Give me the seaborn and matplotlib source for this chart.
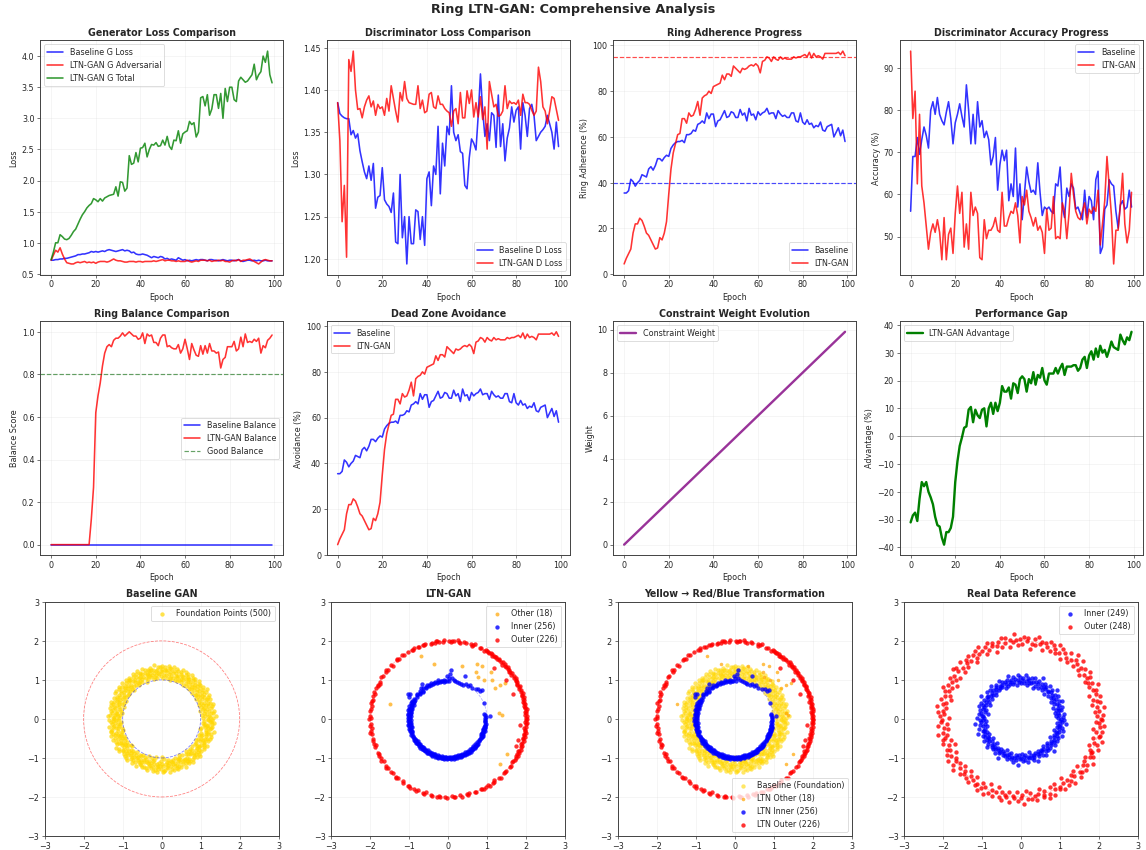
import numpy as np
import pandas as pd
import matplotlib
matplotlib.use("Agg")
import matplotlib.pyplot as plt
import seaborn as sns

# ---- training curves (one value per epoch) ----
epochs = np.arange(100)

g_loss_baseline = [
    0.72, 0.72, 0.73, 0.73, 0.74, 0.74, 0.75, 0.75, 0.76, 0.77,
    0.78, 0.79, 0.81, 0.81, 0.82, 0.82, 0.83, 0.84, 0.86, 0.85,
    0.86, 0.85, 0.86, 0.87, 0.86, 0.88, 0.89, 0.88, 0.87, 0.86,
    0.87, 0.88, 0.89, 0.87, 0.88, 0.87, 0.84, 0.85, 0.82, 0.81,
    0.81, 0.82, 0.81, 0.80, 0.78, 0.76, 0.78, 0.77, 0.76, 0.78,
    0.77, 0.74, 0.75, 0.73, 0.74, 0.73, 0.72, 0.76, 0.74, 0.72,
    0.73, 0.71, 0.72, 0.71, 0.72, 0.73, 0.72, 0.73, 0.73, 0.72,
    0.71, 0.73, 0.73, 0.72, 0.72, 0.71, 0.72, 0.73, 0.72, 0.71,
    0.72, 0.72, 0.71, 0.72, 0.73, 0.71, 0.70, 0.71, 0.72, 0.72,
    0.71, 0.72, 0.71, 0.72, 0.71, 0.71, 0.72, 0.71, 0.71, 0.71]
g_loss_ltn_adv = [
    0.72, 0.80, 0.88, 0.85, 0.92, 0.82, 0.74, 0.68, 0.67, 0.66,
    0.66, 0.68, 0.69, 0.68, 0.69, 0.70, 0.68, 0.69, 0.68, 0.69,
    0.67, 0.69, 0.70, 0.70, 0.70, 0.69, 0.70, 0.72, 0.74, 0.72,
    0.71, 0.71, 0.70, 0.69, 0.69, 0.70, 0.70, 0.70, 0.69, 0.70,
    0.70, 0.69, 0.70, 0.70, 0.70, 0.70, 0.71, 0.70, 0.71, 0.72,
    0.73, 0.71, 0.72, 0.72, 0.71, 0.71, 0.70, 0.71, 0.70, 0.70,
    0.70, 0.72, 0.70, 0.69, 0.70, 0.71, 0.70, 0.72, 0.72, 0.72,
    0.71, 0.72, 0.70, 0.71, 0.71, 0.72, 0.71, 0.72, 0.70, 0.70,
    0.69, 0.71, 0.72, 0.71, 0.73, 0.70, 0.72, 0.72, 0.73, 0.74,
    0.72, 0.70, 0.68, 0.66, 0.69, 0.72, 0.73, 0.72, 0.71, 0.71]
g_loss_ltn_total = [
    0.73, 0.85, 1.00, 1.00, 1.13, 1.10, 1.06, 1.05, 1.07, 1.12,
    1.18, 1.22, 1.30, 1.38, 1.45, 1.50, 1.56, 1.60, 1.63, 1.71,
    1.69, 1.66, 1.71, 1.67, 1.72, 1.74, 1.76, 1.77, 1.78, 1.90,
    1.75, 1.98, 1.97, 1.83, 1.88, 2.40, 2.26, 2.28, 2.45, 2.30,
    2.52, 2.53, 2.60, 2.38, 2.50, 2.58, 2.57, 2.61, 2.55, 2.56,
    2.65, 2.57, 2.71, 2.55, 2.50, 2.65, 2.64, 2.80, 2.60, 2.75,
    2.78, 2.80, 2.95, 2.90, 2.93, 2.70, 2.78, 3.33, 3.35, 3.20,
    3.38, 3.05, 3.15, 3.38, 3.38, 3.16, 3.40, 3.00, 3.48, 3.27,
    3.50, 3.50, 3.30, 3.27, 3.60, 3.66, 3.62, 3.58, 3.60, 3.65,
    3.70, 3.87, 3.62, 3.70, 3.75, 4.00, 3.90, 4.08, 3.70, 3.57]

d_loss_baseline = [
    1.385, 1.372, 1.369, 1.367, 1.366, 1.366, 1.347, 1.352, 1.343, 1.348,
    1.328, 1.315, 1.303, 1.295, 1.310, 1.293, 1.313, 1.260, 1.273, 1.275,
    1.308, 1.270, 1.265, 1.262, 1.255, 1.278, 1.220, 1.218, 1.300, 1.225,
    1.250, 1.194, 1.250, 1.218, 1.218, 1.258, 1.256, 1.223, 1.250, 1.216,
    1.295, 1.303, 1.263, 1.310, 1.300, 1.357, 1.277, 1.337, 1.310, 1.357,
    1.347, 1.405, 1.350, 1.340, 1.347, 1.327, 1.325, 1.287, 1.283, 1.320,
    1.342, 1.337, 1.329, 1.370, 1.419, 1.375, 1.345, 1.360, 1.340, 1.373,
    1.370, 1.332, 1.394, 1.333, 1.360, 1.316, 1.343, 1.355, 1.380, 1.362,
    1.376, 1.380, 1.330, 1.385, 1.370, 1.345, 1.378, 1.383, 1.370, 1.340,
    1.345, 1.350, 1.353, 1.357, 1.370, 1.360, 1.350, 1.330, 1.362, 1.333]
d_loss_ltn = [
    1.385, 1.340, 1.244, 1.287, 1.202, 1.436, 1.422, 1.446, 1.400, 1.377,
    1.378, 1.367, 1.380, 1.388, 1.393, 1.380, 1.387, 1.370, 1.383, 1.378,
    1.380, 1.370, 1.390, 1.375, 1.405, 1.390, 1.375, 1.362, 1.397, 1.387,
    1.410, 1.390, 1.385, 1.384, 1.383, 1.383, 1.405, 1.378, 1.388, 1.373,
    1.375, 1.395, 1.397, 1.380, 1.378, 1.393, 1.383, 1.383, 1.378, 1.375,
    1.373, 1.357, 1.375, 1.378, 1.360, 1.397, 1.367, 1.367, 1.399, 1.384,
    1.400, 1.368, 1.385, 1.368, 1.392, 1.365, 1.380, 1.330, 1.410, 1.395,
    1.380, 1.383, 1.369, 1.370, 1.375, 1.405, 1.378, 1.387, 1.384, 1.385,
    1.383, 1.388, 1.370, 1.395, 1.385, 1.385, 1.383, 1.376, 1.370, 1.375,
    1.427, 1.410, 1.380, 1.375, 1.360, 1.375, 1.392, 1.390, 1.377, 1.364]

adherence_baseline = [
    35.5, 35.5, 36.5, 41.5, 40.5, 38.5, 40.0, 41.0, 43.5, 43.0,
    42.5, 46.0, 47.0, 45.5, 47.5, 50.5, 50.5, 49.5, 51.0, 52.0,
    51.5, 55.0, 56.5, 57.5, 58.0, 58.0, 58.5, 57.5, 61.0, 61.0,
    61.5, 63.0, 62.5, 65.5, 66.0, 67.0, 66.0, 70.5, 68.0, 70.0,
    70.0, 64.5, 67.0, 67.5, 69.5, 71.5, 68.5, 69.0, 71.0, 70.5,
    68.5, 68.5, 72.0, 69.5, 70.5, 67.0, 72.5, 69.5, 70.0, 67.5,
    71.0, 69.5, 70.5, 71.0, 72.5, 70.0, 70.5, 70.5, 68.0, 71.5,
    70.0, 69.0, 69.5, 68.5, 68.5, 70.5, 70.5, 67.0, 66.5, 70.5,
    66.5, 65.5, 67.5, 65.5, 66.0, 64.0, 65.0, 64.5, 66.5, 63.0,
    62.5, 64.5, 65.0, 65.5, 60.0, 62.0, 64.0, 60.5, 63.0, 58.0]
adherence_ltn = [
    4.5, 7.0, 9.0, 11.0, 18.0, 22.0, 22.0, 24.5, 23.5, 21.0,
    18.0, 17.0, 15.0, 13.0, 11.0, 11.5, 16.0, 15.0, 18.0, 23.0,
    35.0, 46.0, 53.0, 57.0, 61.0, 61.5, 68.0, 68.0, 66.0, 70.5,
    69.0, 69.5, 72.0, 75.5, 69.5, 77.0, 78.0, 78.5, 80.0, 79.0,
    82.0, 82.5, 83.0, 83.5, 87.0, 85.0, 87.5, 87.5, 86.5, 91.0,
    90.0, 89.0, 88.0, 90.0, 89.5, 90.0, 91.0, 91.5, 91.0, 92.0,
    91.0, 88.0, 93.0, 93.5, 95.0, 94.5, 93.0, 95.0, 94.0, 93.5,
    95.0, 94.0, 94.5, 94.0, 94.0, 94.0, 95.0, 94.5, 95.0, 95.0,
    95.5, 96.0, 95.0, 97.0, 94.5, 96.5, 95.0, 95.5, 95.0, 94.0,
    96.5, 96.5, 96.5, 96.5, 96.5, 96.5, 97.0, 96.0, 97.5, 95.5]

acc_baseline = [
    56, 69, 69, 73.5, 69.5, 73, 76, 74, 71, 80,
    82, 79, 83, 79, 77.5, 76.5, 79.5, 82, 78, 72,
    77, 79, 81.5, 78.5, 76, 86, 80, 72, 79, 72,
    82, 76, 77.5, 73.5, 75, 73, 67, 69, 73.5, 61,
    67, 70.5, 68, 70.5, 58.5, 62.5, 59.5, 71, 57, 62.5,
    54, 60, 66.5, 63, 60.5, 61, 60, 67.5, 60.5, 55,
    57, 56.5, 57, 56, 55.5, 62.5, 62, 66.5, 57, 54.5,
    61.5, 59.5, 62.5, 61.5, 56.5, 57, 55.5, 54, 61, 54.5,
    59.5, 58.5, 54, 63.5, 65.5, 46, 47.5, 56.5, 57.5, 63.5,
    62.5, 62, 56, 52, 57.5, 58.5, 56.5, 57, 61, 57]
acc_ltn = [
    94, 78, 84.5, 62.5, 79, 62, 58, 52.5, 47, 51,
    53, 51, 54, 51, 44.5, 54.5, 44.5, 50.5, 52, 46,
    55.5, 62, 55.5, 60.5, 47.5, 53, 47, 60.5, 55, 57,
    55.5, 45, 44.5, 54, 49.5, 51.5, 51.5, 52.5, 54.5, 51.5,
    51, 60.5, 52.5, 52.5, 54.5, 56, 55.5, 58, 55, 48.5,
    59.5, 57.5, 61, 56, 54.5, 52.5, 54.5, 51.5, 52.5, 51,
    46, 56.5, 51.5, 52, 59.5, 49.5, 50, 49.5, 58, 56,
    49.5, 55.5, 65, 60, 56, 54.5, 54, 56, 58, 53,
    56.5, 55.5, 57, 56, 61, 48, 53, 58.5, 69, 62,
    55, 43.5, 51.5, 51.5, 57.5, 65, 53, 48.5, 51.5, 60.5]

balance_baseline = [
    0, 0, 0, 0, 0, 0, 0, 0, 0, 0,
    0, 0, 0, 0, 0, 0, 0, 0, 0, 0,
    0, 0, 0, 0, 0, 0, 0, 0, 0, 0,
    0, 0, 0, 0, 0, 0, 0, 0, 0, 0,
    0, 0, 0, 0, 0, 0, 0, 0, 0, 0,
    0, 0, 0, 0, 0, 0, 0, 0, 0, 0,
    0, 0, 0, 0, 0, 0, 0, 0, 0, 0,
    0, 0, 0, 0, 0, 0, 0, 0, 0, 0,
    0, 0, 0, 0, 0, 0, 0, 0, 0, 0,
    0, 0, 0, 0, 0, 0, 0, 0, 0, 0]
balance_ltn = [
    0, 0, 0, 0, 0, 0, 0, 0, 0, 0,
    0, 0, 0, 0, 0, 0, 0, 0, 0.12, 0.27,
    0.62, 0.70, 0.76, 0.84, 0.90, 0.93, 0.94, 0.93, 0.96, 0.97,
    0.97, 0.98, 0.995, 0.98, 0.99, 1.0, 0.99, 0.98, 0.98, 0.965,
    0.97, 0.995, 0.945, 0.99, 0.98, 0.985, 0.95, 0.95, 0.935, 0.97,
    0.985, 0.985, 0.93, 0.935, 0.925, 0.92, 0.92, 0.94, 0.90, 0.92,
    0.965, 0.92, 0.87, 0.945, 0.915, 0.89, 0.885, 0.935, 0.895, 0.935,
    0.90, 0.945, 0.91, 0.91, 0.90, 0.905, 0.83, 0.87, 0.88, 0.93,
    0.93, 0.93, 0.955, 0.91, 0.92, 0.975, 0.93, 0.99, 0.95, 0.955,
    0.95, 0.965, 0.955, 0.97, 0.90, 0.935, 0.925, 0.96, 0.97, 0.985]

constraint_weight = [
    0.0, 0.1, 0.2, 0.3, 0.4, 0.5, 0.6, 0.7, 0.8, 0.9,
    1.0, 1.1, 1.2, 1.3, 1.4, 1.5, 1.6, 1.7, 1.8, 1.9,
    2.0, 2.1, 2.2, 2.3, 2.4, 2.5, 2.6, 2.7, 2.8, 2.9,
    3.0, 3.1, 3.2, 3.3, 3.4, 3.5, 3.6, 3.7, 3.8, 3.9,
    4.0, 4.1, 4.2, 4.3, 4.4, 4.5, 4.6, 4.7, 4.8, 4.9,
    5.0, 5.1, 5.2, 5.3, 5.4, 5.5, 5.6, 5.7, 5.8, 5.9,
    6.0, 6.1, 6.2, 6.3, 6.4, 6.5, 6.6, 6.7, 6.8, 6.9,
    7.0, 7.1, 7.2, 7.3, 7.4, 7.5, 7.6, 7.7, 7.8, 7.9,
    8.0, 8.1, 8.2, 8.3, 8.4, 8.5, 8.6, 8.7, 8.8, 8.9,
    9.0, 9.1, 9.2, 9.3, 9.4, 9.5, 9.6, 9.7, 9.8, 9.9]

# ---- generated samples: angle (deg) and radius (x100) per point ----
baseline_angle = [
    0, 1, 1, 2, 3, 4, 4, 5, 6, 6, 7, 8, 9, 9, 10, 11, 12, 12, 13, 14,
    14, 15, 16, 17, 17, 18, 19, 19, 20, 21, 22, 22, 23, 24, 25, 25, 26, 27, 27, 28,
    29, 30, 30, 31, 32, 32, 33, 34, 35, 35, 36, 37, 37, 38, 39, 40, 40, 41, 42, 43,
    43, 44, 45, 45, 46, 47, 48, 48, 49, 50, 50, 51, 52, 53, 53, 54, 55, 55, 56, 57,
    58, 58, 59, 60, 61, 61, 62, 63, 63, 64, 65, 66, 66, 67, 68, 68, 69, 70, 71, 71,
    72, 73, 73, 74, 75, 76, 76, 77, 78, 79, 79, 80, 81, 81, 82, 83, 84, 84, 85, 86,
    86, 87, 88, 89, 89, 90, 91, 91, 92, 93, 94, 94, 95, 96, 97, 97, 98, 99, 99, 100,
    101, 102, 102, 103, 104, 104, 105, 106, 107, 107, 108, 109, 109, 110, 111, 112, 112, 113, 114, 115,
    115, 116, 117, 117, 118, 119, 120, 120, 121, 122, 122, 123, 124, 125, 125, 126, 127, 127, 128, 129,
    130, 130, 131, 132, 133, 133, 134, 135, 135, 136, 137, 138, 138, 139, 140, 140, 141, 142, 143, 143,
    144, 145, 145, 146, 147, 148, 148, 149, 150, 151, 151, 152, 153, 153, 154, 155, 156, 156, 157, 158,
    158, 159, 160, 161, 161, 162, 163, 163, 164, 165, 166, 166, 167, 168, 169, 169, 170, 171, 171, 172,
    173, 174, 174, 175, 176, 176, 177, 178, 179, 179, 180, 181, 181, 182, 183, 184, 184, 185, 186, 187,
    187, 188, 189, 189, 190, 191, 192, 192, 193, 194, 194, 195, 196, 197, 197, 198, 199, 199, 200, 201,
    202, 202, 203, 204, 204, 205, 206, 207, 207, 208, 209, 210, 210, 211, 212, 212, 213, 214, 215, 215,
    216, 217, 217, 218, 219, 220, 220, 221, 222, 223, 223, 224, 225, 225, 226, 227, 228, 228, 229, 230,
    230, 231, 232, 233, 233, 234, 235, 235, 236, 237, 238, 238, 239, 240, 241, 241, 242, 243, 243, 244,
    245, 246, 246, 247, 248, 248, 249, 250, 251, 251, 252, 253, 253, 254, 255, 256, 256, 257, 258, 259,
    259, 260, 261, 261, 262, 263, 264, 264, 265, 266, 266, 267, 268, 269, 269, 270, 271, 271, 272, 273,
    274, 274, 275, 276, 277, 277, 278, 279, 279, 280, 281, 282, 282, 283, 284, 284, 285, 286, 287, 287,
    288, 289, 289, 290, 291, 292, 292, 293, 294, 295, 295, 296, 297, 297, 298, 299, 300, 300, 301, 302,
    302, 303, 304, 305, 305, 306, 307, 307, 308, 309, 310, 310, 311, 312, 313, 313, 314, 315, 315, 316,
    317, 318, 318, 319, 320, 320, 321, 322, 323, 323, 324, 325, 325, 326, 327, 328, 328, 329, 330, 331,
    331, 332, 333, 333, 334, 335, 336, 336, 337, 338, 338, 339, 340, 341, 341, 342, 343, 343, 344, 345,
    346, 346, 347, 348, 349, 349, 350, 351, 351, 352, 353, 354, 354, 355, 356, 356, 357, 358, 359, 359]
baseline_radius = [
    118, 131, 107, 125, 139, 112, 121, 104, 133, 116, 127, 109, 122, 136, 114, 101, 129, 119, 108, 134,
    113, 124, 138, 106, 120, 130, 111, 126, 103, 117, 135, 110, 123, 128, 105, 132, 115, 121, 137, 108,
    119, 126, 102, 133, 117, 111, 139, 124, 109, 128, 106, 121, 134, 114, 127, 119, 103, 131, 112, 125,
    130, 116, 108, 136, 122, 113, 126, 104, 118, 135, 111, 129, 120, 105, 132, 117, 124, 138, 110, 123,
    127, 102, 119, 134, 115, 128, 107, 121, 136, 113, 122, 137, 110, 125, 104, 131, 118, 114, 129, 106,
    116, 133, 124, 109, 127, 120, 136, 112, 103, 130, 108, 121, 131, 117, 138, 105, 126, 114, 123, 134,
    125, 112, 104, 129, 119, 135, 110, 122, 132, 115, 134, 118, 127, 106, 113, 124, 139, 108, 120, 128,
    103, 129, 116, 135, 121, 110, 127, 131, 114, 119, 120, 107, 133, 124, 111, 137, 102, 126, 118, 130,
    128, 115, 122, 139, 106, 119, 132, 113, 125, 109, 112, 136, 105, 121, 130, 116, 123, 108, 134, 127,
    131, 110, 126, 118, 103, 135, 114, 129, 107, 121, 117, 125, 138, 109, 124, 111, 130, 120, 136, 104,
    105, 132, 119, 127, 114, 123, 108, 137, 112, 126, 136, 121, 111, 103, 128, 117, 134, 125, 106, 119,
    124, 108, 130, 115, 137, 102, 120, 129, 113, 133, 110, 127, 122, 134, 107, 126, 116, 104, 131, 118,
    129, 114, 106, 120, 132, 113, 138, 123, 109, 125, 121, 135, 117, 111, 124, 130, 105, 119, 128, 112,
    107, 123, 136, 126, 110, 118, 131, 115, 103, 134, 133, 116, 102, 129, 121, 108, 125, 137, 120, 111,
    119, 128, 114, 105, 135, 124, 112, 130, 117, 106, 126, 109, 131, 122, 116, 139, 107, 121, 133, 114,
    113, 138, 120, 108, 127, 115, 129, 103, 124, 132, 102, 125, 133, 117, 112, 128, 119, 136, 110, 121,
    137, 111, 124, 130, 106, 122, 114, 127, 135, 118, 116, 130, 107, 123, 138, 109, 125, 118, 104, 129,
    123, 106, 128, 113, 120, 134, 110, 132, 116, 101, 131, 119, 112, 136, 125, 104, 122, 117, 129, 108,
    109, 126, 135, 118, 98, 131, 115, 124, 137, 120, 128, 113, 121, 107, 129, 116, 136, 97, 122, 133,
    104, 132, 117, 125, 111, 127, 120, 139, 106, 115, 122, 110, 130, 114, 134, 119, 108, 126, 131, 117,
    135, 124, 105, 128, 116, 112, 133, 121, 109, 127, 114, 103, 122, 137, 120, 129, 106, 118, 125, 132,
    127, 118, 131, 109, 124, 136, 113, 102, 130, 116, 108, 129, 115, 123, 133, 107, 121, 126, 111, 138,
    132, 120, 126, 104, 117, 125, 130, 114, 119, 106, 117, 134, 109, 130, 121, 103, 127, 136, 115, 124,
    125, 107, 118, 113, 131, 122, 110, 128, 105, 135, 111, 123, 136, 120, 108, 126, 119, 133, 124, 102,
    138, 116, 104, 127, 122, 114, 129, 117, 131, 110, 120, 131, 113, 106, 126, 135, 109, 123, 118, 128]

ltn_inner_angle = [
    1, 3, 4, 6, 8, 24, 40, 41, 45, 47, 52, 58, 59, 63,
    66, 68, 70, 73, 76, 79, 82, 85, 86, 87, 88, 89,
    91, 92, 94, 96, 97, 99, 101, 103, 104, 106, 108, 110, 111, 113, 115, 117, 119, 120,
    122, 124, 126, 127, 129, 131, 132, 133, 135, 137, 139, 141, 143, 145, 147, 148, 149,
    150, 151, 152, 153, 154, 155, 156, 157, 158, 159, 160, 161, 162, 163, 164, 165, 166, 167, 168, 169,
    170, 171, 172, 173, 174, 175, 176, 177, 178, 179, 180, 181, 182, 183, 184, 185, 186, 187, 188, 189,
    190, 191, 192, 193, 194, 195, 196, 197, 198, 199, 200, 202, 204, 206, 208,
    210, 211, 212, 213, 214, 215, 216, 217, 218, 219, 220, 221, 222, 223, 224, 225, 226, 227, 228, 229,
    230, 231, 232, 233, 234, 235, 236, 237, 238, 239, 240, 241, 242, 243, 244, 245, 246, 247, 248, 249,
    250, 251, 252, 253, 254, 255, 256, 257, 258, 259, 260, 261, 262, 263, 264, 265, 266, 267, 268, 269,
    270, 271, 272, 273, 274, 275, 276, 277, 278, 279, 280, 281, 282, 283, 284, 285, 286, 287, 288, 289,
    290, 291, 292, 293, 294, 295, 296, 297, 298, 299, 300, 301, 302, 303, 304, 305, 306, 307, 308, 309,
    310, 311, 312, 313, 314, 315, 316, 317, 318, 319, 320, 322, 324, 326, 328,
    330, 331, 332, 333, 334, 335, 336, 337, 338, 339, 340, 341, 342, 343, 344, 345, 346, 347, 348, 349,
    351, 353, 355, 357, 359]
ltn_inner_radius = [
    95, 97, 107, 94, 94, 100, 115, 110, 110, 104, 99, 104, 99, 100,
    95, 119, 96, 97, 98, 99, 100, 105, 125, 115, 98, 105,
    110, 98, 97, 101, 96, 99, 100, 97, 103, 98, 96, 101, 99, 97, 102, 98, 100, 96,
    103, 99, 97, 111, 101, 106, 98, 96, 102, 99, 97, 103, 100, 98, 116, 120, 101,
    97, 116, 99, 103, 96, 101, 98, 104, 95, 100, 102, 97, 105, 99, 96, 103, 100, 98, 104, 97,
    101, 95, 99, 103, 98, 102, 96, 100, 104, 97, 99, 101, 96, 103, 98, 100, 95, 102, 99, 104,
    97, 101, 98, 96, 103, 100, 99, 102, 97, 101, 98, 100, 103, 99, 101,
    100, 98, 102, 97, 101, 99, 103, 96, 100, 98, 101, 99, 97, 102, 100, 98, 103, 99, 96, 101,
    100, 97, 102, 99, 101, 98, 100, 96, 103, 99, 101, 98, 100, 102, 97, 99, 101, 103, 98, 100,
    96, 102, 99, 101, 97, 100, 103, 98, 99, 101, 97, 102, 100, 98, 104, 99, 101, 97, 100, 102,
    99, 101, 98, 100, 102, 97, 100, 99, 103, 98, 101, 96, 100, 102, 99, 97, 101, 100, 98, 103,
    99, 101, 97, 100, 98, 102, 99, 96, 101, 100, 98, 103, 97, 100, 99, 102, 96, 101, 98, 100,
    97, 99, 102, 95, 100, 98, 101, 96, 99, 97, 100, 95, 98, 96, 97,
    96, 98, 95, 97, 99, 94, 96, 98, 95, 97, 96, 99, 95, 97, 94, 96, 98, 95, 97, 96,
    95, 97, 94, 96, 95]

# outer ring: dense on the right, small clumps with gaps elsewhere
ltn_outer_angle = [
    0, 1, 2, 3, 4, 5, 6, 7, 8, 9, 10, 11, 12, 13, 14, 15, 16, 17, 18, 19,
    20, 21, 22, 23, 24, 25, 26, 27, 28, 29, 30, 31, 32, 33, 34, 35, 36, 37, 38, 39,
    40, 41, 42, 43, 44, 45, 46, 47, 48, 49, 50, 51, 52, 53, 54, 55, 56, 57, 58, 59,
    60, 61, 62, 65, 66, 70, 71, 72, 73, 77, 78, 81, 82, 83, 86, 87, 88, 89, 93, 94,
    97, 98, 99, 100, 102, 103, 107, 108, 109, 112, 113, 116, 117, 118, 121,
    125, 126, 129, 130, 131, 136, 137, 141, 142, 143, 147, 148, 152, 153, 154, 155, 157, 160, 161, 163,
    166, 167, 168, 170, 173, 174, 178, 179, 180, 184, 185, 187, 189, 190, 191, 195, 196, 199, 200, 201,
    206, 207, 208, 210, 212, 213, 217, 218, 219, 223, 224, 228, 229, 230, 234, 235, 239, 240, 241, 244,
    246, 247, 251, 252, 253, 257, 258, 262, 263, 264, 268, 269, 273, 274, 275, 279, 280, 284, 285, 286,
    290, 291, 295, 296, 297, 299, 301, 302, 305, 306, 307, 311, 312, 316, 317, 318, 322, 323, 326, 327,
    328,
    330, 331, 332, 333, 334, 335, 336, 337, 338, 339, 340, 341, 342, 343, 344, 345, 346, 347, 348, 349,
    350, 351, 352, 353, 354, 355, 356, 357, 358, 359]
ltn_outer_radius = [
    201, 199, 202, 198, 200, 197, 201, 203, 199, 200, 198, 202, 200, 197, 201, 199, 203, 198, 200, 202,
    199, 179, 201, 198, 200, 202, 197, 199, 201, 198, 200, 203, 199, 201, 180, 198, 202, 200, 197, 201,
    199, 202, 198, 200, 201, 197, 203, 199, 175, 200, 202, 198, 201, 199, 200, 197, 202, 201, 198, 200,
    200, 202, 198, 201, 199, 203, 200, 197, 201, 199, 202, 198, 200, 203, 199, 201, 197, 200, 202, 198,
    199, 201, 203, 198, 200, 197, 202, 199, 201, 198, 200, 202, 197, 199, 201,
    199, 201, 198, 202, 200, 197, 201, 199, 203, 198, 200, 202, 199, 197, 201, 198, 200, 203, 199, 201,
    198, 200, 202, 197, 199, 201, 200, 198, 203, 199, 201, 197, 200, 202, 198, 199, 201, 200, 197, 202,
    200, 198, 201, 199, 202, 197, 200, 203, 199, 201, 198, 200, 202, 199, 197, 201, 200, 198, 203, 199,
    201, 198, 200, 202, 197, 199, 201, 203, 198, 200, 199, 202, 197, 201, 200, 198, 203, 199, 201, 198,
    200, 202, 197, 199, 201, 200, 198, 202, 199, 201, 197, 200, 203, 198, 199, 201, 200, 202, 198, 199,
    201,
    200, 198, 202, 199, 201, 197, 200, 203, 188, 199, 201, 198, 200, 188, 202, 199, 197, 201, 200, 198,
    202, 199, 200, 197, 201, 186, 199, 202, 198, 200]

ltn_other_x = [-0.70, -0.35, 0.35, 0.73, 0.87, 0.72, 0.76, 0.92, 1.10,
               1.12, 1.20, 1.32, 1.45, 1.31, 1.38, -1.48, 1.50, 1.33]
ltn_other_y = [1.60, 1.42, 1.36, 1.40, 1.35, 1.20, 1.07, 1.00, 1.20,
               1.00, 0.80, 0.86, 0.92, 0.16, 0.10, 0.38, -0.90, -1.15]

real_inner_angle = [
    0, 1, 3, 4, 6, 7, 9, 10, 12, 13, 14, 16, 17, 19, 20, 22, 23, 25, 26, 28,
    29, 30, 32, 33, 35, 36, 38, 39, 41, 42, 43, 45, 46, 48, 49, 51, 52, 54, 55, 56,
    58, 59, 61, 62, 64, 65, 67, 68, 69, 71, 72, 74, 75, 77, 78, 80, 81, 82, 84, 85,
    87, 88, 90, 91, 93, 94, 95, 97, 98, 100, 101, 103, 104, 106, 107, 108, 110, 111, 113, 114,
    116, 117, 119, 120, 121, 123, 124, 126, 127, 129, 130, 132, 133, 134, 136, 137, 139, 140, 142, 143,
    145, 146, 147, 149, 150, 152, 153, 155, 156, 158, 159, 160, 162, 163, 165, 166, 168, 169, 171, 172,
    173, 175, 176, 178, 179, 181, 182, 184, 185, 186, 188, 189, 191, 192, 194, 195, 197, 198, 199, 201,
    202, 204, 205, 207, 208, 210, 211, 212, 214, 215, 217, 218, 220, 221, 223, 224, 225, 227, 228, 230,
    231, 233, 234, 236, 237, 238, 240, 241, 243, 244, 246, 247, 249, 250, 251, 253, 254, 256, 257, 259,
    260, 262, 263, 264, 266, 267, 269, 270, 272, 273, 275, 276, 277, 279, 280, 282, 283, 285, 286, 288,
    289, 290, 292, 293, 295, 296, 298, 299, 301, 302, 303, 305, 306, 308, 309, 311, 312, 314, 315, 316,
    318, 319, 321, 322, 324, 325, 327, 328, 329, 331, 332, 334, 335, 337, 338, 340, 341, 342, 344, 345,
    347, 348, 350, 351, 353, 354, 355, 357, 358]
real_inner_radius = [
    103, 95, 108, 91, 99, 112, 97, 88, 105, 101, 93, 110, 98, 86, 104, 100, 115, 92, 107, 96,
    89, 102, 111, 97, 94, 106, 99, 117, 90, 103, 108, 96, 100, 87, 113, 98, 105, 92, 101, 109,
    95, 104, 90, 118, 99, 107, 93, 102, 86, 111, 100, 97, 109, 94, 103, 89, 106, 98, 114, 92,
    105, 99, 91, 108, 96, 112, 101, 88, 104, 97, 110, 93, 102, 99, 116, 95, 107, 90, 103, 98,
    87, 106, 100, 113, 94, 101, 97, 109, 92, 104, 99, 115, 96, 103, 89, 108, 100, 94, 111, 97,
    102, 91, 105, 98, 119, 93, 106, 100, 88, 110, 96, 104, 99, 112, 92, 101, 107, 95, 103, 86,
    109, 97, 100, 94, 114, 98, 105, 91, 102, 120, 93, 106, 99, 88, 110, 96, 103, 100, 117, 94,
    101, 108, 90, 104, 97, 111, 95, 102, 99, 87, 106, 93, 113, 100, 96, 104, 89, 107, 98, 102,
    95, 110, 99, 92, 105, 101, 116, 94, 103, 97, 88, 104, 100, 109, 96, 102, 91, 106, 99, 113,
    101, 94, 107, 98, 119, 93, 103, 100, 90, 108, 97, 105, 92, 111, 99, 102, 87, 104, 96, 110,
    103, 98, 115, 94, 100, 106, 92, 101, 109, 95, 99, 112, 96, 103, 89, 107, 100, 94, 105, 118,
    91, 102, 98, 110, 95, 104, 100, 86, 108, 97, 106, 93, 101, 114, 99, 96, 103, 90, 111, 100,
    94, 107, 98, 102, 117, 92, 105, 99, 109]

real_outer_angle = [
    0, 2, 3, 5, 6, 8, 9, 11, 12, 13, 15, 16, 18, 19, 21, 22, 24, 25, 27, 28,
    30, 31, 32, 34, 35, 37, 38, 40, 41, 43, 44, 46, 47, 48, 50, 51, 53, 54, 56, 57,
    59, 60, 62, 63, 64, 66, 67, 69, 70, 72, 73, 75, 76, 78, 79, 80, 82, 83, 85, 86,
    88, 89, 91, 92, 94, 95, 96, 98, 99, 101, 102, 104, 105, 107, 108, 110, 111, 112, 114, 115,
    117, 118, 120, 121, 123, 124, 126, 127, 128, 130, 131, 133, 134, 136, 137, 139, 140, 142, 143, 144,
    146, 147, 149, 150, 152, 153, 155, 156, 158, 159, 160, 162, 163, 165, 166, 168, 169, 171, 172, 174,
    175, 176, 178, 179, 181, 182, 184, 185, 187, 188, 190, 191, 192, 194, 195, 197, 198, 200, 201, 203,
    204, 206, 207, 208, 210, 211, 213, 214, 216, 217, 219, 220, 222, 223, 224, 226, 227, 229, 230, 232,
    233, 235, 236, 238, 239, 240, 242, 243, 245, 246, 248, 249, 251, 252, 254, 255, 256, 258, 259, 261,
    262, 264, 265, 267, 268, 270, 271, 272, 274, 275, 277, 278, 280, 281, 283, 284, 286, 287, 288, 290,
    291, 293, 294, 296, 297, 299, 300, 302, 303, 304, 306, 307, 309, 310, 312, 313, 315, 316, 318, 319,
    320, 322, 323, 325, 326, 328, 329, 331, 332, 334, 335, 336, 338, 339, 341, 342, 344, 345, 347, 348,
    350, 351, 352, 354, 355, 357, 358, 359]
real_outer_radius = [
    205, 194, 211, 189, 201, 215, 197, 186, 208, 199, 192, 210, 203, 184, 206, 198, 217, 191, 204, 195,
    188, 207, 200, 213, 196, 185, 209, 202, 193, 216, 201, 190, 205, 219, 198, 187, 211, 194, 203, 182,
    208, 196, 214, 191, 200, 206, 188, 212, 197, 204, 185, 203, 199, 215, 192, 209, 195, 181, 207, 200,
    211, 193, 206, 189, 202, 218, 197, 204, 186, 210, 199, 214, 191, 205, 196, 183, 208, 201, 212, 194,
    206, 188, 202, 216, 197, 209, 192, 204, 185, 211, 195, 207, 200, 190, 213, 198, 186, 210, 203, 217,
    189, 204, 196, 211, 201, 184, 207, 193, 215, 199, 208, 192, 205, 187, 212, 198, 203, 219, 194, 200,
    213, 197, 209, 185, 202, 206, 191, 214, 199, 188, 204, 216, 193, 201, 208, 189, 211, 196, 182, 207,
    198, 210, 186, 204, 215, 195, 200, 209, 192, 218, 201, 189, 212, 197, 205, 184, 208, 194, 210, 199,
    187, 206, 202, 214, 191, 203, 197, 216, 185, 209, 196, 211, 199, 183, 207, 193, 213, 200, 205, 190,
    214, 198, 204, 188, 210, 202, 195, 217, 186, 206, 192, 208, 200, 212, 197, 185, 209, 203, 194, 215,
    205, 190, 213, 199, 187, 206, 201, 211, 196, 182, 209, 197, 204, 216, 193, 200, 188, 214, 202, 207,
    186, 211, 198, 205, 195, 218, 191, 203, 209, 199, 201, 193, 212, 187, 206, 197, 215, 190, 204, 208,
    196, 210, 185, 203, 214, 199, 192, 207]


def to_xy(angle_deg, radius_x100):
    t = np.deg2rad(np.asarray(angle_deg, dtype=float))
    r = np.asarray(radius_x100, dtype=float) / 100.0
    return r * np.cos(t), r * np.sin(t)


base_x, base_y = to_xy(baseline_angle, baseline_radius)
inner_x, inner_y = to_xy(ltn_inner_angle, ltn_inner_radius)
outer_x, outer_y = to_xy(ltn_outer_angle, ltn_outer_radius)
real_in_x, real_in_y = to_xy(real_inner_angle, real_inner_radius)
real_out_x, real_out_y = to_xy(real_outer_angle, real_outer_radius)

performance_gap = np.array(adherence_ltn) - np.array(adherence_baseline)

sns.set_style("ticks", {"axes.edgecolor": "0.25", "axes.linewidth": 1.2})
plt.rcParams['font.family'] = ['DejaVu Sans']
plt.rcParams['axes.linewidth'] = 1.2

fig, axes = plt.subplots(3, 4, figsize=(20, 14.84))
fig.subplots_adjust(left=0.035, right=0.997, top=0.952, bottom=0.0165,
                    wspace=0.179, hspace=0.199)
fig.suptitle('Ring LTN-GAN: Comprehensive Analysis', fontsize=16,
             fontweight='bold', y=0.997)


def line(ax, y, color, label, lw=2, alpha=0.8):
    sns.lineplot(x=epochs, y=y, color=color, linewidth=lw, alpha=alpha,
                 label=label, ax=ax)


def finish(ax, title, ylabel, loc, xlabel='Epoch'):
    ax.set_title(title, fontsize=12, fontweight='bold')
    ax.set_xlabel(xlabel)
    ax.set_ylabel(ylabel)
    ax.grid(True, alpha=0.3)
    ax.legend(loc=loc)


# row 1
ax = axes[0, 0]
line(ax, g_loss_baseline, 'blue', 'Baseline G Loss')
line(ax, g_loss_ltn_adv, 'red', 'LTN-GAN G Adversarial')
line(ax, g_loss_ltn_total, 'green', 'LTN-GAN G Total')
finish(ax, 'Generator Loss Comparison', 'Loss', 'upper left')

ax = axes[0, 1]
line(ax, d_loss_baseline, 'blue', 'Baseline D Loss')
line(ax, d_loss_ltn, 'red', 'LTN-GAN D Loss')
finish(ax, 'Discriminator Loss Comparison', 'Loss', 'lower right')

ax = axes[0, 2]
line(ax, adherence_baseline, 'blue', 'Baseline')
line(ax, adherence_ltn, 'red', 'LTN-GAN')
ax.axhline(95, color='red', linestyle='--', alpha=0.7)
ax.axhline(40, color='blue', linestyle='--', alpha=0.7)
finish(ax, 'Ring Adherence Progress', 'Ring Adherence (%)', 'lower right')

ax = axes[0, 3]
line(ax, acc_baseline, 'blue', 'Baseline')
line(ax, acc_ltn, 'red', 'LTN-GAN')
finish(ax, 'Discriminator Accuracy Progress', 'Accuracy (%)', 'upper right')

# row 2
ax = axes[1, 0]
line(ax, balance_baseline, 'blue', 'Baseline Balance')
line(ax, balance_ltn, 'red', 'LTN-GAN Balance')
ax.axhline(0.8, color='darkgreen', linestyle='--', alpha=0.6, label='Good Balance')
finish(ax, 'Ring Balance Comparison', 'Balance Score', 'center right')

ax = axes[1, 1]
line(ax, adherence_baseline, 'blue', 'Baseline')
line(ax, adherence_ltn, 'red', 'LTN-GAN')
finish(ax, 'Dead Zone Avoidance', 'Avoidance (%)', 'upper left')

ax = axes[1, 2]
line(ax, constraint_weight, 'purple', 'Constraint Weight', lw=3)
finish(ax, 'Constraint Weight Evolution', 'Weight', 'upper left')

ax = axes[1, 3]
line(ax, performance_gap, 'green', 'LTN-GAN Advantage', lw=3, alpha=1.0)
ax.axhline(0, color='black', linewidth=1, alpha=0.3)
finish(ax, 'Performance Gap', 'Advantage (%)', 'upper left')


# row 3: sample scatter plots
def ring_guides(ax, alpha):
    ax.add_patch(plt.Circle((0, 0), 1, fill=False, color='blue',
                            linestyle='--', alpha=alpha, linewidth=1))
    ax.add_patch(plt.Circle((0, 0), 2, fill=False, color='red',
                            linestyle='--', alpha=alpha, linewidth=1))


def dots(ax, x, y, color, label, s=30, alpha=0.8):
    sns.scatterplot(x=x, y=y, color=color, s=s, alpha=alpha, linewidth=0,
                    label=label, ax=ax)


def finish_scatter(ax, title, loc):
    ax.set_xlim(-3, 3)
    ax.set_ylim(-3, 3)
    ax.set_aspect('equal')
    ax.set_title(title, fontsize=12, fontweight='bold')
    ax.grid(True, alpha=0.3)
    ax.legend(loc=loc)


ax = axes[2, 0]
dots(ax, base_x, base_y, 'gold', f'Foundation Points ({len(base_x)})', alpha=0.7)
ring_guides(ax, 0.5)
finish_scatter(ax, 'Baseline GAN', 'upper right')

ax = axes[2, 1]
dots(ax, ltn_other_x, ltn_other_y, 'orange', f'Other ({len(ltn_other_x)})', s=25, alpha=0.7)
dots(ax, inner_x, inner_y, 'blue', f'Inner ({len(inner_x)})')
dots(ax, outer_x, outer_y, 'red', f'Outer ({len(outer_x)})')
ring_guides(ax, 0.3)
finish_scatter(ax, 'LTN-GAN', 'upper right')

ax = axes[2, 2]
dots(ax, base_x, base_y, 'gold', 'Baseline (Foundation)', alpha=0.6)
dots(ax, ltn_other_x, ltn_other_y, 'orange', f'LTN Other ({len(ltn_other_x)})', s=20, alpha=0.7)
dots(ax, inner_x, inner_y, 'blue', f'LTN Inner ({len(inner_x)})')
dots(ax, outer_x, outer_y, 'red', f'LTN Outer ({len(outer_x)})')
ring_guides(ax, 0.3)
finish_scatter(ax, 'Yellow \u2192 Red/Blue Transformation', 'lower right')

ax = axes[2, 3]
dots(ax, real_in_x, real_in_y, 'blue', f'Inner ({len(real_in_x)})')
dots(ax, real_out_x, real_out_y, 'red', f'Outer ({len(real_out_x)})')
ring_guides(ax, 0.3)
finish_scatter(ax, 'Real Data Reference', 'upper right')

fig.savefig('out.png', dpi=57.3)
